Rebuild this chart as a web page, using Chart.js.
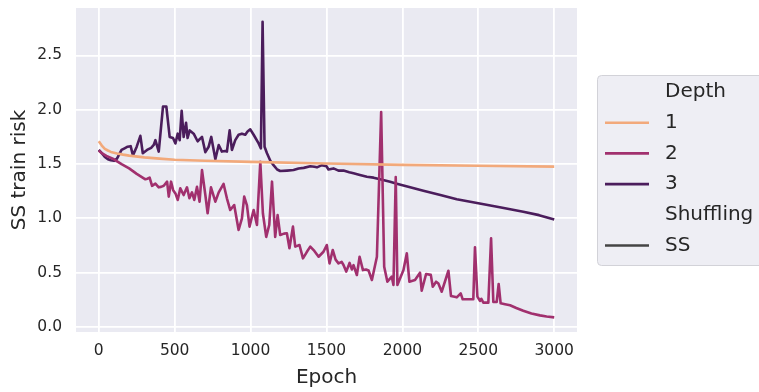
<!DOCTYPE html>
<html>
<head>
<meta charset="utf-8">
<script src="https://cdn.jsdelivr.net/npm/chart.js@4/dist/chart.umd.min.js"></script>
<style>
  html, body { margin: 0; padding: 0; background: #fff; }
  #grafico { display: block; }
</style>
</head>
<body>
<canvas id="grafico" width="759" height="392"></canvas>
<script>
// dados
const xTicks = [0, 500, 1000, 1500, 2000, 2500, 3000];
const yTicks = [0, 0.5, 1.0, 1.5, 2.0, 2.5];

const depth1Epoch = [0, 20, 40, 60, 80, 120, 160, 200, 300, 400, 500, 700, 1000, 1500, 2000, 2500, 3000];
const depth1Risk = [1.71, 1.67, 1.64, 1.625, 1.612, 1.598, 1.587, 1.578, 1.562, 1.55, 1.54, 1.53, 1.52, 1.505, 1.493, 1.485, 1.477];

const depth2Epoch = [0, 20, 50, 100, 150, 200, 250, 307, 320, 335, 351, 373, 395, 410, 428, 450, 461, 476, 490, 505,
  520, 537, 559, 581, 597, 614, 629, 647, 664, 680, 702, 717, 739, 768, 790, 822, 844, 866, 892, 921,
  943, 958, 976, 993, 1020, 1042, 1064, 1081, 1103, 1123, 1141, 1162, 1178, 1195, 1220, 1239, 1256, 1279, 1294, 1322,
  1345, 1370, 1393, 1420, 1448, 1480, 1502, 1520, 1541, 1560, 1579, 1600, 1612, 1630, 1652, 1667, 1678, 1700, 1718, 1740,
  1760, 1777, 1799, 1832, 1860, 1880, 1901, 1930, 1941, 1956, 1967, 2007, 2029, 2046, 2083, 2116, 2127, 2156, 2187, 2200,
  2222, 2237, 2259, 2303, 2320, 2358, 2384, 2397, 2467, 2478, 2494, 2511, 2520, 2533, 2566, 2584, 2599, 2621, 2634, 2647,
  2676, 2709, 2750, 2796, 2850, 2906, 2950, 3000];
const depth2Risk = [1.625, 1.6, 1.575, 1.544, 1.5, 1.46, 1.41, 1.36, 1.365, 1.375, 1.3, 1.32, 1.286, 1.29, 1.3, 1.338, 1.2, 1.338, 1.26, 1.23,
  1.17, 1.277, 1.215, 1.286, 1.185, 1.24, 1.17, 1.29, 1.154, 1.445, 1.215, 1.047, 1.286, 1.154, 1.24, 1.317, 1.185, 1.077, 1.123, 0.893,
  1.0, 1.2, 1.12, 0.924, 1.077, 0.94, 1.52, 1.047, 0.83, 0.94, 1.338, 0.83, 1.03, 0.847, 0.86, 0.863, 0.725, 0.924, 0.74, 0.755,
  0.632, 0.69, 0.74, 0.7, 0.647, 0.693, 0.755, 0.586, 0.709, 0.62, 0.586, 0.6, 0.571, 0.51, 0.59, 0.53, 0.57, 0.479, 0.647, 0.524,
  0.53, 0.52, 0.433, 0.647, 1.98, 0.555, 0.417, 0.463, 0.387, 1.38, 0.387, 0.524, 0.678, 0.417, 0.433, 0.5, 0.334, 0.488, 0.48, 0.371,
  0.417, 0.4, 0.325, 0.518, 0.285, 0.273, 0.31, 0.255, 0.255, 0.734, 0.28, 0.24, 0.26, 0.224, 0.224, 0.817, 0.23, 0.23, 0.396, 0.218,
  0.21, 0.2, 0.175, 0.15, 0.125, 0.107, 0.097, 0.089];

const depth3Epoch = [0, 20, 40, 60, 80, 100, 120, 150, 170, 190, 210, 225, 250, 274, 290, 318, 345, 362, 373, 395,
  423, 445, 467, 489, 505, 520, 533, 546, 559, 575, 585, 599, 625, 651, 680, 702, 724, 741, 768, 790,
  811, 833, 844, 862, 877, 899, 921, 943, 965, 980, 998, 1020, 1053, 1068, 1079, 1092, 1108, 1130, 1151, 1175,
  1195, 1240, 1283, 1316, 1350, 1393, 1420, 1437, 1470, 1500, 1513, 1546, 1579, 1612, 1650, 1678, 1720, 1766, 1810, 1853,
  1919, 1963, 2051, 2138, 2250, 2358, 2500, 2650, 2796, 2900, 3000];
const depth3Risk = [1.63, 1.6, 1.565, 1.545, 1.535, 1.53, 1.55, 1.63, 1.645, 1.66, 1.665, 1.58, 1.66, 1.76, 1.6, 1.63, 1.65, 1.676, 1.72, 1.615,
  2.03, 2.03, 1.75, 1.74, 1.69, 1.78, 1.72, 1.99, 1.75, 1.88, 1.74, 1.81, 1.78, 1.71, 1.75, 1.61, 1.66, 1.75, 1.544, 1.676,
  1.615, 1.62, 1.615, 1.81, 1.63, 1.72, 1.77, 1.78, 1.77, 1.8, 1.82, 1.77, 1.69, 1.645, 2.81, 1.66, 1.6, 1.53, 1.49, 1.45,
  1.436, 1.44, 1.445, 1.46, 1.465, 1.48, 1.475, 1.47, 1.49, 1.48, 1.45, 1.46, 1.44, 1.44, 1.425, 1.415, 1.4, 1.384, 1.375, 1.36,
  1.338, 1.32, 1.286, 1.255, 1.215, 1.176, 1.139, 1.1, 1.062, 1.03, 0.99];

const corDepth = ["#F2A97B", "#A1306E", "#4B1D5C"];
const corTexto = "#262626";

function pontos(epocas, valores) {
  return epocas.map((e, i) => ({ x: e, y: valores[i] }));
}

function serie(label, epocas, valores, cor) {
  return {
    label: label,
    data: pontos(epocas, valores),
    borderColor: cor,
    backgroundColor: cor,
    borderWidth: 2.6,
    pointRadius: 0,
    tension: 0,
    borderJoinStyle: "round",
  };
}

// fundo cinza da area do grafico
const fundo = {
  id: "fundo",
  beforeDraw(chart) {
    const { ctx, chartArea } = chart;
    ctx.save();
    ctx.fillStyle = "#ffffff";
    ctx.fillRect(0, 0, chart.width, chart.height);
    ctx.fillStyle = "#EAEAF2";
    ctx.fillRect(chartArea.left, chartArea.top, chartArea.right - chartArea.left, chartArea.bottom - chartArea.top);
    ctx.restore();
  },
};

// legenda no estilo seaborn (com titulos Depth / Shuffling)
const legenda = {
  id: "legenda",
  afterDraw(chart) {
    const ctx = chart.ctx;
    ctx.save();
    const x0 = 597, y0 = 75, w = 180, h = 190;
    ctx.beginPath();
    ctx.roundRect(x0 + 0.5, y0 + 0.5, w, h, 4);
    ctx.fillStyle = "#EEEEF4";
    ctx.fill();
    ctx.strokeStyle = "#D2D2D8";
    ctx.lineWidth = 1;
    ctx.stroke();

    const linhas = [
      { texto: "Depth", cor: null },
      { texto: "1", cor: corDepth[0] },
      { texto: "2", cor: corDepth[1] },
      { texto: "3", cor: corDepth[2] },
      { texto: "Shuffling", cor: null },
      { texto: "SS", cor: "#444444" },
    ];
    ctx.font = "20px 'DejaVu Sans'";
    ctx.textBaseline = "middle";
    ctx.fillStyle = corTexto;
    linhas.forEach((l, i) => {
      const y = 92 + i * 30.7;
      if (l.cor) {
        ctx.strokeStyle = l.cor;
        ctx.lineWidth = 2.6;
        ctx.beginPath();
        ctx.moveTo(605, y);
        ctx.lineTo(649, y);
        ctx.stroke();
      }
      ctx.fillText(l.texto, 665, y);
    });
    ctx.restore();
  },
};

const ctx = document.getElementById("grafico").getContext("2d");
const grafico = new Chart(ctx, {
  type: "line",
  data: {
    datasets: [
      serie("1", depth1Epoch, depth1Risk, corDepth[0]),
      serie("2", depth2Epoch, depth2Risk, corDepth[1]),
      serie("3", depth3Epoch, depth3Risk, corDepth[2]),
    ],
  },
  options: {
    responsive: false,
    animation: false,
    devicePixelRatio: 1,
    layout: { padding: { left: 0, top: 8, right: 182, bottom: 0 } },
    plugins: {
      legend: { display: false },
      tooltip: { enabled: false },
    },
    scales: {
      x: {
        type: "linear",
        min: -150,
        max: 3150,
        afterFit(scale) {
          scale.height = 60;
          scale.paddingLeft = 0;
          scale.paddingRight = 0;
        },
        afterBuildTicks(scale) { scale.ticks = xTicks.map((v) => ({ value: v })); },
        grid: { color: "#ffffff", lineWidth: 1.8, drawTicks: false },
        border: { display: false },
        ticks: {
          color: corTexto,
          padding: 10,
          maxRotation: 0,
          font: { family: "DejaVu Sans", size: 15.5 },
          callback: (v) => String(v),
        },
        title: {
          display: true,
          text: "Epoch",
          color: corTexto,
          font: { family: "DejaVu Sans", size: 20 },
          padding: { top: 0, bottom: 2 },
        },
      },
      y: {
        min: -0.046,
        max: 2.937,
        afterFit(scale) {
          scale.width = 76;
          scale.paddingTop = 0;
          scale.paddingBottom = 0;
        },
        afterBuildTicks(scale) { scale.ticks = yTicks.map((v) => ({ value: v })); },
        grid: { color: "#ffffff", lineWidth: 1.8, drawTicks: false },
        border: { display: false },
        ticks: {
          color: corTexto,
          padding: 14,
          font: { family: "DejaVu Sans", size: 15.5 },
          callback: (v) => v.toFixed(1),
        },
        title: {
          display: true,
          text: "SS train risk",
          color: corTexto,
          font: { family: "DejaVu Sans", size: 20 },
          padding: { top: 8, bottom: 0 },
        },
      },
    },
  },
  plugins: [fundo, legenda],
});
</script>
</body>
</html>
